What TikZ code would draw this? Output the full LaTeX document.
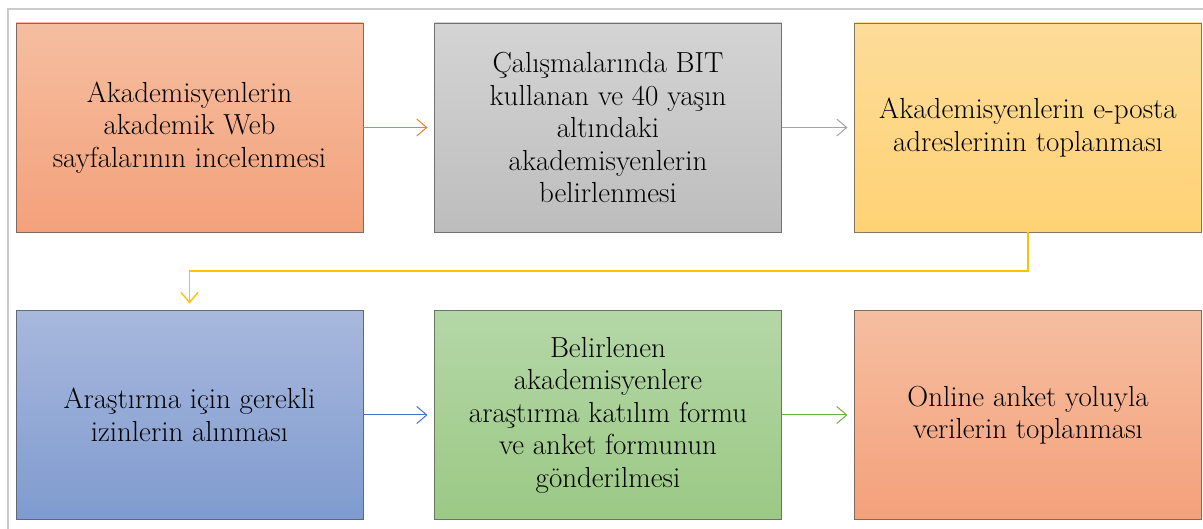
\documentclass[tikz,border=0pt]{standalone}
\usepackage{fontspec}
\usepackage{tikz}
\usetikzlibrary{arrows.meta, positioning, calc}
\definecolor{orangeA}{HTML}{F5BEA0}
\definecolor{orangeB}{HTML}{F4A17B}
\definecolor{grayA}{HTML}{D4D4D4}
\definecolor{grayB}{HTML}{BDBDBD}
\definecolor{goldA}{HTML}{FDDC9A}
\definecolor{goldB}{HTML}{FFD274}
\definecolor{blueA}{HTML}{A8B8DD}
\definecolor{blueB}{HTML}{7F9BCF}
\definecolor{greenA}{HTML}{B4D7A7}
\definecolor{greenB}{HTML}{9BC985}
\definecolor{lineOrange}{HTML}{ED7D31}
\definecolor{lineGray}{HTML}{A5A5A5}
\definecolor{lineGold}{HTML}{FFC000}
\definecolor{lineBlue}{HTML}{4472C4}
\definecolor{lineGreen}{HTML}{70AD47}
\tikzset{every stepbox node/.style={minimum width=347pt,minimum height=209pt,inner sep=2pt,outer sep=0pt,align=center,font=\fontsize{29}{32.5}\selectfont}}
\tikzset{stepbox/.style={every stepbox node,draw=#1!35!black!75,line width=0.9pt}}
\tikzset{flow/.style={-{Straight Barb[length=10pt,width=17pt]},line width=1pt,shorten >=7pt,draw=#1}}
\begin{document}
\begin{tikzpicture}[x=1pt,y=-1pt]
                    \useasboundingbox (0,0) rectangle (1203,529);
                    \draw[gray!40, line width=1.8pt] (8,529) -- (8,9) -- (1203,9);

                    \node[stepbox=orangeB, top color=orangeA, bottom color=orangeB] at (189.5,127.5) (E1){Akademisyenlerin\\akademik Web\\sayfalarının incelenmesi};
                    \node[stepbox=grayB, top color=grayA, bottom color=grayB] at (608,127.5) (E2){Çalışmalarında BIT\\kullanan ve 40 yaşın\\altındaki\\akademisyenlerin\\belirlenmesi};
                    \node[stepbox=goldB, top color=goldA, bottom color=goldB] at (1028,127.5) (E3){Akademisyenlerin e-posta\\adreslerinin toplanması};
                    \node[stepbox=blueB, top color=blueA, bottom color=blueB] at (189.5,415) (E4){Araştırma için gerekli\\izinlerin alınması};
                    \node[stepbox=greenB, top color=greenA, bottom color=greenB] at (608,415) (E5){Belirlenen\\akademisyenlere\\araştırma katılım formu\\ve anket formunun\\gönderilmesi};
                    \node[stepbox=orangeB, top color=orangeA, bottom color=orangeB] at (1028,415) (E6){Online anket yoluyla\\verilerin toplanması};

                    \path[flow=lineOrange] (E1) edge (E2);
                    \path[flow=lineGray] (E2) edge (E3);
                    \draw[flow=lineGold, line width=1.4pt] (E3.south) -- ++(0,39) -| (E4.north);
                    \path[flow=lineBlue] (E4) edge (E5);
                    \path[flow=lineGreen] (E5) edge (E6);

                \end{tikzpicture}
\end{document}
